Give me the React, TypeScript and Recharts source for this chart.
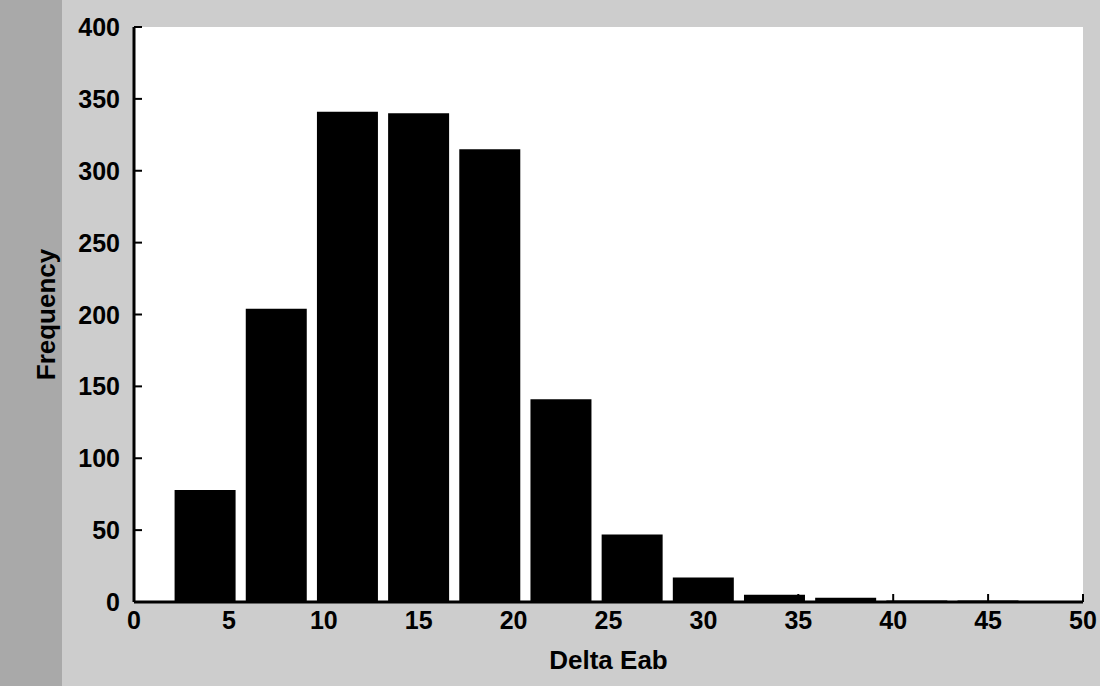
import React from "react";
import { BarChart, Bar, XAxis, YAxis, CartesianGrid, Label } from "recharts";

// histogram bins of Delta Eab, step 3.75
const binCenters = [3.75, 7.5, 11.25, 15, 18.75, 22.5, 26.25, 30, 33.75, 37.5, 41.25, 45, 48.75];
const frequencies = [78, 204, 341, 340, 315, 141, 47, 17, 5, 3, 1, 1, 0];
const xTicks = [0, 5, 10, 15, 20, 25, 30, 35, 40, 45, 50];
const yTicks = [0, 50, 100, 150, 200, 250, 300, 350, 400];

const FONT = "'Liberation Sans', Arial, sans-serif";
const Y_GAP = 14;
const X_GAP = 8;
const TICK_LEN = 8;

const data = binCenters.map((center, i) => ({ center, count: frequencies[i] }));

// ticks point into the plot, like the old figure window style
function YTick(props: any) {
  const { x, y, payload } = props;
  const axisX = x + Y_GAP;
  return (
    <g>
      <line x1={axisX} x2={axisX + TICK_LEN} y1={y} y2={y} stroke="#000" strokeWidth={2} />
      <text
        x={x}
        y={y}
        dy={9}
        textAnchor="end"
        fontFamily={FONT}
        fontWeight="bold"
        fontSize={25}
        fill="#000"
      >
        {payload.value}
      </text>
    </g>
  );
}

function XTick(props: any) {
  const { x, y, payload } = props;
  const axisY = y - X_GAP;
  return (
    <g>
      <line x1={x} x2={x} y1={axisY} y2={axisY - TICK_LEN} stroke="#000" strokeWidth={2} />
      <text
        x={x}
        y={y}
        dy={19}
        textAnchor="middle"
        fontFamily={FONT}
        fontWeight="bold"
        fontSize={25}
        fill="#000"
      >
        {payload.value}
      </text>
    </g>
  );
}

export default function App() {
  return (
    <div
      style={{
        position: "absolute",
        left: 0,
        top: 0,
        width: 1100,
        height: 686,
        background: "linear-gradient(to right, #a9a9a9 0px, #a9a9a9 62px, #cdcdcd 62px)",
      }}
    >
      <BarChart
        width={1100}
        height={686}
        data={data}
        margin={{ top: 27, right: 17, bottom: 0, left: 0 }}
      >
        <CartesianGrid fill="#fff" stroke="none" horizontal={false} vertical={false} />
        <XAxis
          type="number"
          dataKey="center"
          domain={[0, 50]}
          ticks={xTicks}
          allowDataOverflow
          height={84}
          tickSize={0}
          tickMargin={X_GAP}
          tick={<XTick />}
          axisLine={{ stroke: "#000", strokeWidth: 3 }}
        >
          <Label
            value="Delta Eab"
            position="insideBottom"
            offset={17}
            style={{ fontFamily: FONT, fontWeight: "bold", fontSize: 26, fill: "#000" }}
          />
        </XAxis>
        <YAxis
          type="number"
          domain={[0, 400]}
          ticks={yTicks}
          width={134}
          tickSize={0}
          tickMargin={Y_GAP}
          tick={<YTick />}
          axisLine={{ stroke: "#000", strokeWidth: 3 }}
        >
          <Label
            value="Frequency"
            angle={-90}
            position="insideLeft"
            offset={46}
            style={{ fontFamily: FONT, fontWeight: "bold", fontSize: 26, fill: "#000", textAnchor: "middle" }}
          />
        </YAxis>
        <Bar dataKey="count" fill="#000" barSize={61} isAnimationActive={false} />
      </BarChart>
    </div>
  );
}
